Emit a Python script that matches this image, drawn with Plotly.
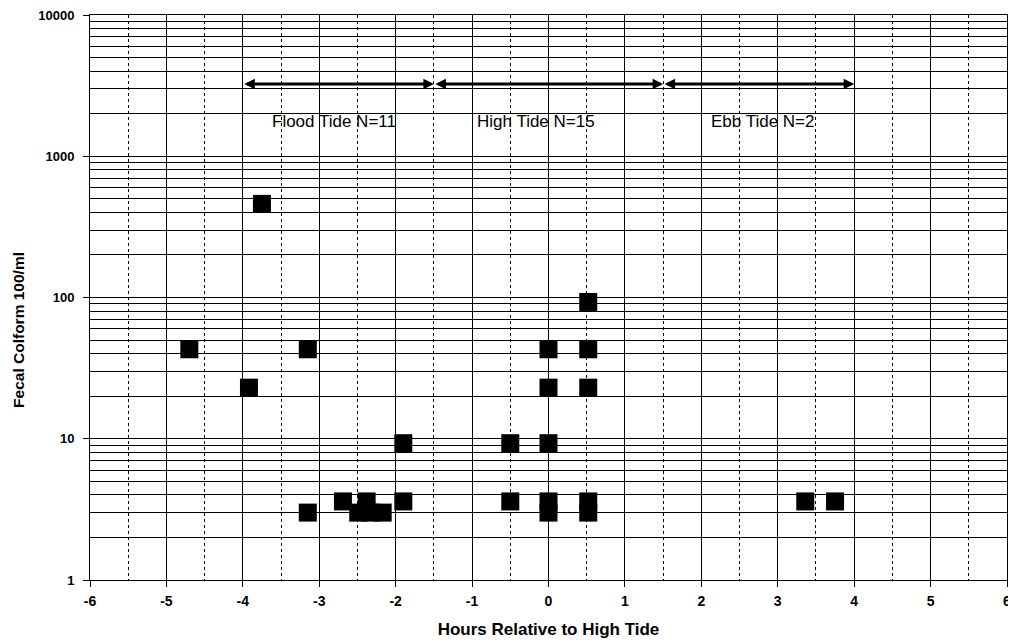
import numpy as np
import plotly.graph_objects as go

# Data (hours relative to high tide, fecal coliform MPN /100 ml)
hours = [-4.7, -3.75, -3.92, -3.15, -3.15, -2.69, -2.49, -2.38, -2.33, -2.17, -1.9, -1.9,
         -0.5, -0.5, 0.0, 0.0, 0.0, 0.0, 0.0, 0.52, 0.52, 0.52, 0.52, 0.52, 3.36, 3.75]
coliform = [43, 460, 23, 43, 3, 3.6, 3, 3.6, 3, 3, 9.3, 3.6,
            9.3, 3.6, 43, 23, 9.3, 3.6, 3, 93, 43, 23, 3.6, 3, 3.6, 3.6]

# Tide periods
period_start = [-4.0, -1.5, 1.5]
period_end = [-1.5, 1.5, 4.0]
period_labels = ["Flood Tide N=11", "High Tide N=15", "Ebb Tide N=2"]
label_x = [-2.81, -0.17, 2.81]
arrow_level = 3250
label_level = 1770

x_ticks = [-6, -5, -4, -3, -2, -1, 0, 1, 2, 3, 4, 5, 6]
x_ticktext = ["-6", "-5", "-4", "-3", "-2", "-1", "0", "1", "2", "3", "4", "5", "6"]
y_ticks = [1, 10, 100, 1000, 10000]
y_ticktext = ["1", "10", "100", "1000", "10000"]
y_title = "Fecal Colform 100/ml"

FONT = "Arial, Liberation Sans, sans-serif"

fig = go.Figure()
fig.add_trace(go.Scatter(
    x=hours, y=coliform, mode="markers",
    marker=dict(symbol="square", size=18, color="black", line=dict(width=0)),
    showlegend=False, hoverinfo="x+y"))

annotations = []
for s, e in zip(period_start, period_end):
    annotations.append(dict(
        x=e, y=np.log10(arrow_level), ax=s, ay=np.log10(arrow_level),
        xref="x", yref="y", axref="x", ayref="y",
        showarrow=True, arrowhead=2, arrowside="end+start", arrowsize=0.7,
        arrowwidth=3, arrowcolor="black", text=""))
for lx, lab in zip(label_x, period_labels):
    annotations.append(dict(
        x=lx, y=np.log10(label_level), xref="x", yref="y", text=lab,
        showarrow=False, font=dict(family=FONT, size=17, color="black")))
# y-axis title (placed slightly below the plot centre as in the original)
annotations.append(dict(
    x=-0.0775, y=0.4425, xref="paper", yref="paper", text=y_title,
    textangle=-90, showarrow=False, xanchor="center", yanchor="middle",
    borderpad=0,
    font=dict(family=FONT, size=15.5, color="black", weight="bold")))

# page body has an 8px default margin: figure sized/offset to compensate
fig.update_layout(
    width=1008, height=636,
    margin=dict(l=82, r=9, t=7, b=64),
    paper_bgcolor="white", plot_bgcolor="white",
    font=dict(family=FONT, color="black"),
    annotations=annotations,
    xaxis=dict(
        range=[-6, 6], tickmode="array", tickvals=x_ticks, ticktext=x_ticktext,
        ticks="outside", ticklen=6, tickcolor="black",
        showgrid=True, gridcolor="black", gridwidth=1,
        showline=True, linecolor="black", linewidth=1, mirror=True,
        zeroline=False, automargin=False, ticklabeloverflow="allow",
        ticklabelstandoff=2,
        tickfont=dict(family=FONT, size=14, color="black", weight="bold"),
        minor=dict(dtick=0.5, tick0=0, showgrid=True, gridcolor="black",
                   griddash="dot", gridwidth=1, ticks=""),
        title=dict(text="Hours Relative to High Tide",
                   font=dict(family=FONT, size=17, color="black", weight="bold")),
    ),
    yaxis=dict(
        type="log", range=[0, 4], tickmode="array", tickvals=y_ticks,
        ticktext=y_ticktext,
        ticks="outside", ticklen=6, tickcolor="black",
        showgrid=True, gridcolor="black", gridwidth=1,
        showline=True, linecolor="black", linewidth=1, mirror=True,
        zeroline=False, automargin=False, ticklabeloverflow="allow",
        ticklabelstandoff=6,
        tickfont=dict(family=FONT, size=13, color="black", weight="bold"),
        minor=dict(dtick="D1", showgrid=True, gridcolor="black", gridwidth=1, ticks=""),
    ),
)

fig.write_html("out.html")
